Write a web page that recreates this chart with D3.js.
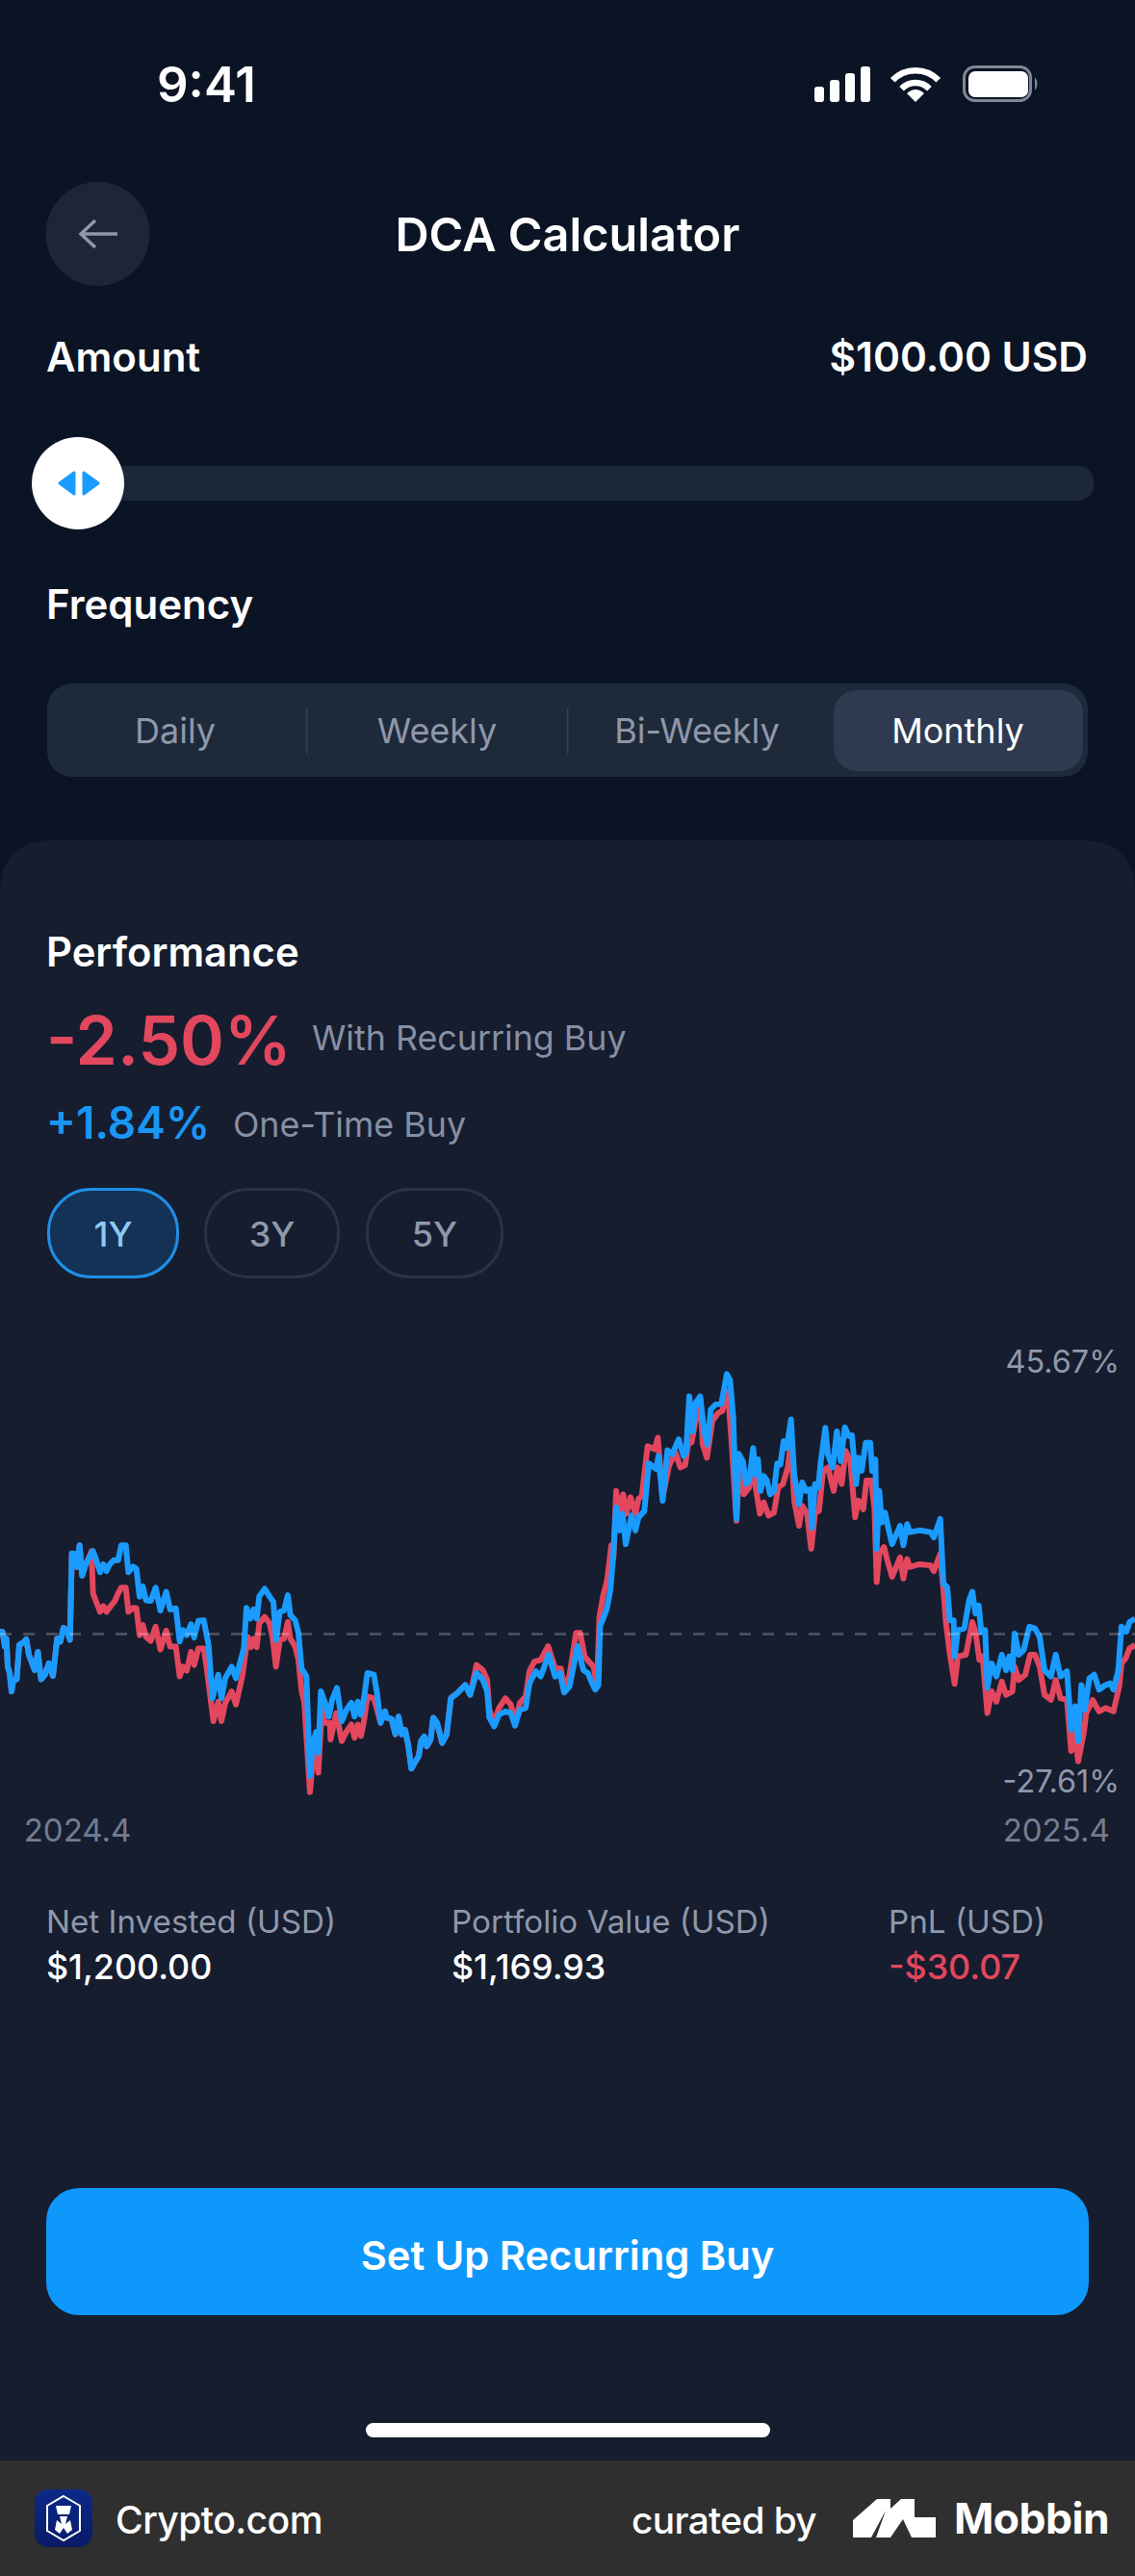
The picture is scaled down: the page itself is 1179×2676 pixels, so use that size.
<!DOCTYPE html>
<html>
<head>
<meta charset="utf-8">
<script src="https://cdn.jsdelivr.net/npm/d3@7"></script>
<style>
  html, body { margin: 0; padding: 0; background: #0b1424; }
  svg { display: block; }
  text { font-family: Inter, "Noto Sans", sans-serif; }
</style>
</head>
<body>
<svg id="page"></svg>
<script>
// [day, return %]
const recurringBuy = [
  [0,0.4],[0.8,0.4],[1.5,-2.2],[2,-0.8],[2.4,-5.7],[3,-6.8],[3.6,-10],[4.2,-8],[5.2,-7.9],[6,-1.9],[7.2,-1.5],[8.2,-0.9],
  [9,-3.6],[10,-5.1],[10.8,-6.3],[11.8,-3.1],[12.8,-7.9],[14,-7.1],[15.2,-5.1],[16.5,-7.3],[17.8,-0.8],[18.8,-1.3],[19.8,1.1],
  [20.8,0.7],[21.8,-1],[22.4,14.1],[23.5,14],[24,11.7],[24.8,15.5],[25.6,10.2],[26.6,12],[27.5,13.1],[28.5,14.5],[29,7.1],
  [30,5.6],[31.2,3.9],[32.2,4.9],[33.2,3.9],[34.5,4.9],[35.8,5.8],[36.8,7.1],[37.8,8.1],[39.2,8.1],[40,3.9],[41.5,4.6],[42.5,4.5],
  [43.5,-0.2],[44.5,1.6],[45.5,-0.5],[47,-1.2],[48.5,1.3],[50,-2.7],[51.8,0.6],[53,-2.2],[54.8,-2.2],[56,-7.4],[57,-5.7],[58.2,-6.4],
  [59.5,-3.1],[60.5,-5.4],[61.8,-2.5],[63.5,-2.5],[64.5,-6.3],[66.5,-15.2],[68,-11.8],[69,-15.2],[70.2,-12],[72.2,-10],[73.5,-12.3],
  [75.5,-7.4],[77.2,-0.5],[78.2,-2.3],[79,-0.8],[80,-2.3],[80.8,1.9],[82.5,3],[84,1.9],[85,-0.8],[86,-5.7],[87.2,-1],[88.5,-0.8],
  [89.7,2.1],[90.5,-0.8],[92,-2.2],[93,-4.5],[94,-10],[94.8,-11.8],[96.6,-27.6],[97.5,-21.9],[98.5,-21],[99.2,-24.2],[100.3,-13.2],
  [101.2,-15.5],[102.8,-15.5],[103,-18.4],[104.8,-13.8],[106.5,-18.7],[108,-17],[109.5,-15.8],[110.5,-18.1],[111.5,-15.8],[112.5,-17.8],
  [113.5,-14.9],[114.5,-10.9],[116.5,-11.2],[117.5,-13.2],[118.6,-15.5],[120,-13.5],[120.5,-14.6],[122,-14.8],[123.2,-17.5],[124.2,-14.4],
  [125.2,-17.5],[126.2,-16.7],[127.2,-19.3],[128.2,-23.5],[129.5,-22.2],[130.5,-21.3],[131.2,-18.7],[132.2,-17.9],[133,-19.6],[134.2,-18.4],
  [135,-14.6],[136.2,-15.5],[137.8,-19],[139.2,-17.5],[140.5,-11.2],[142.5,-10.3],[145,-8.9],[146.5,-10.6],[148.5,-5.4],[150.5,-6.3],
  [151.8,-8],[152.5,-13.2],[154,-15.5],[155.5,-12.9],[157.5,-11.2],[159.2,-12.3],[160.5,-15.5],[162,-12],[163.8,-10.9],[165,-6.5],
  [166.5,-4.8],[168.5,-4.5],[170.8,-2.1],[173,-6],[174.8,-6],[175.8,-9.7],[177.5,-7.1],[179.5,0.2],[180.8,0.2],[182.2,-3.9],[183.5,-4.8],
  [185,-5.7],[186,-9.1],[186.8,3],[188,6.8],[189.2,9.4],[190.5,15.5],[191.2,13.4],[192,25],[193,21],[194.2,24.4],[195.2,21],[196.5,23.9],
  [198,21],[199,23.6],[200,24.1],[201.8,32.8],[204,32.3],[205,34.3],[206.5,23.9],[208.5,29.4],[210.5,31.7],[212,29.1],[213.5,29.5],
  [214.5,33.4],[215.5,33.4],[217.2,38.6],[218.2,41.2],[219,33.1],[220.3,30.8],[222,37.2],[223.8,38.6],[225,38.9],[226.8,42.4],[228,33.4],
  [229.5,19.8],[230.5,30.2],[231.8,24.4],[233.5,25.6],[234.7,31.1],[235.5,25.6],[236.8,21],[238,23],[239.5,20.7],[241.2,21.2],[242.5,25.6],
  [244,26.2],[245.5,29.1],[246.5,33.7],[247.5,23.3],[249,18.9],[250,22.4],[251.5,21],[252.8,14.9],[254,21.2],[255.2,21.5],[256.5,28.5],
  [258,29.1],[259.8,25],[261,29.1],[262.3,26.2],[263.5,32],[265,30.2],[266.5,20.4],[267.5,23.3],[269,21.8],[270,26.8],[271.5,26.8],
  [272.5,22.1],[273.2,9.1],[274,14],[275.5,15.2],[276.5,12.9],[278,10],[280.5,13.4],[281.5,9.7],[282.7,13.1],[283.5,11.7],[286.5,12.2],
  [290,12],[291,11],[293,14],[294,7.6],[294.8,1.9],[296,-3.4],[297.5,-8.7],[298.5,-3.9],[301,-3.6],[303,2.1],[304,0.4],[305.2,-4.5],
  [306.2,-3.9],[307.7,-13.8],[309,-10],[310.5,-11.8],[312.2,-8.3],[313.5,-10.6],[315.5,-10],[316.2,-5.7],[317.5,-8],[319.5,-7.1],[321,-3.6],
  [322.5,-3.6],[324,-5.7],[325.5,-10.6],[327.5,-11.5],[329,-8],[330.5,-11.2],[332.5,-11.5],[333.8,-20.4],[335,-17.3],[336,-22.2],[337.8,-17],
  [338.5,-13.8],[340.5,-11.5],[342.5,-13.5],[344.5,-12.9],[347,-13.5],[348.8,-9.1],[349.5,-5.1],[350.8,-4.2],[352,-2.5],[353.7,-1.9]
];
const oneTimeBuy = [
  [0,0.4],[0.8,0.4],[1.5,-2.2],[2,-0.8],[2.4,-5.7],[3,-6.8],[3.6,-10],[4.2,-8],[5.2,-7.9],[6,-1.9],[7.2,-1.5],[8.2,-0.9],
  [9,-3.6],[10,-5.1],[10.8,-6.3],[11.8,-3.1],[12.8,-7.9],[14,-7.1],[15.2,-5.1],[16.5,-7.3],[17.8,-0.8],[18.8,-1.3],[19.8,1.1],
  [20.8,0.7],[21.8,-1],[22.4,14.1],[23.5,14],[24,11.7],[24.8,15.5],[25.6,10.2],[26.6,12],[27.5,13.1],[29,14.5],[30,12.9],
  [31.2,10.8],[32.2,12.2],[33.2,11],[34.2,12.2],[35.5,12.9],[36.8,12.9],[37.8,15.5],[39.2,15.5],[40,10.8],[41.5,11.8],[42.5,11.4],
  [43.5,6.5],[44.5,8.3],[45.5,5.9],[47,5.8],[48.5,8.1],[50,4.1],[51.8,7.4],[53,4.3],[54.8,4.5],[56,-1.3],[57,0.7],[58.2,-0.2],
  [59.5,1.7],[60.5,-0.6],[61.8,2.3],[63.5,2.4],[65,-1.9],[66.2,-11.2],[68,-7.1],[69,-11.2],[70.2,-7.7],[72.2,-5.7],[73.5,-7.7],
  [76,-2.5],[76.8,4.6],[78,2.7],[79,4.3],[80,2.7],[80.8,6.6],[82.5,7.9],[84,6.6],[85.2,5.6],[86,-1],[87.2,3.9],[88.5,4.1],
  [89.7,6.8],[90.5,3.3],[92,2.4],[93,0.2],[94,-6],[95.5,-7.4],[96.6,-24.8],[97.5,-19],[98.5,-17.1],[99.2,-20.7],[100,-10],
  [101.2,-11.8],[102.5,-14.4],[103.5,-11.5],[105,-9.4],[106.5,-15.2],[108,-13.2],[109.5,-12],[110.5,-14.4],[111.5,-11.8],[112.5,-14.1],
  [113.5,-10.9],[114.5,-6.8],[116.5,-7.1],[117.5,-10.3],[118.6,-15.5],[120,-13.5],[120.5,-14.6],[122,-14.8],[123.2,-17.5],[124.2,-14.4],
  [125.2,-17.5],[126.2,-16.7],[127.2,-19.3],[128.2,-23.5],[129.5,-22.2],[130.5,-21.3],[131.2,-18.7],[132.2,-17.9],[133,-19.6],[134.2,-18.4],
  [135,-14.6],[136.2,-15.5],[137.8,-19],[139.2,-17.5],[140.5,-11.2],[142.5,-10.3],[145,-8.9],[146.5,-10.6],[148.5,-6.8],[150.5,-8],
  [151.8,-10],[152.5,-14.6],[154,-16.1],[155.5,-14.1],[157.5,-13.5],[159.2,-13.8],[160.5,-16],[162,-13.2],[163.8,-12.9],[165,-8.6],
  [167,-6.5],[168.5,-7.4],[171,-3.6],[173,-7.4],[174.5,-6.8],[175.8,-10.2],[177.5,-9.1],[180,-2.1],[181.8,-6.3],[183.2,-6.8],[184.5,-8.6],
  [185.5,-9.7],[186.5,-8.9],[187,1.3],[189,4.2],[190.2,7.6],[191,12.9],[192,22.1],[193,18.1],[194,21],[195,15.7],[196.8,20.7],
  [198,18.1],[199,20.4],[200.8,21.5],[202.2,29.8],[204.5,28.8],[205.2,31.1],[206.5,23.3],[208,32.1],[209.5,31.4],[211.5,34],[213,31.1],
  [213.8,31.7],[214.8,41.5],[215.8,35.4],[216.8,40.4],[218.2,41.5],[219.5,35.1],[220.5,33.1],[221.5,39.2],[223,40.1],[224.8,40.2],[226.5,45.4],
  [227.5,44.4],[228.5,37.8],[229.5,20.1],[230.2,31.5],[231.5,30.2],[232.5,26.2],[233.5,26.8],[234.7,32.5],[235.5,27.9],[236.2,30.5],[237,25],
  [238,27.6],[239,26.8],[240,24.4],[241.2,25],[242.2,29.8],[243.2,29.6],[244.2,33.7],[245.2,32.5],[246.5,37.5],[247.5,27.9],[249,22.7],
  [250,26.5],[251.2,25],[252.5,25.3],[253,18.6],[254,26.2],[255,25.6],[255.8,30.2],[257.2,36],[258,31.4],[259.5,29.1],[260.8,35.4],[262,30.2],
  [263.3,36.1],[264.5,34.6],[265.5,34.7],[266.8,26.2],[267.5,30.8],[268.5,28.5],[269.8,33.4],[271.2,33.4],[271.8,28.5],[272.8,30.5],[273.2,14.9],
  [274,25],[274.8,19.5],[275.8,21.2],[276.8,18.6],[278,15.7],[280.5,18.9],[281.5,15.5],[282.7,19.2],[283.5,17.8],[286.5,18.1],[290,17.8],
  [291,16.9],[293,20.1],[294,8.8],[295.2,8.2],[296,2.4],[297.2,2.4],[297.5,-3.9],[298.5,0.7],[300.5,1],[302,5.9],[303,7.4],[304,3.6],[305,5],
  [305.8,0.4],[307,0.7],[307.7,-9.4],[309,-5.1],[310.5,-7.4],[312.2,-3.6],[313.5,-6.3],[314.5,-3.9],[315.5,-6.3],[316.2,0.1],[317.5,-3.6],
  [319,-2.8],[320.8,1.3],[322.5,1],[324,-0.5],[325.5,-6.3],[327.5,-7.4],[329,-3.6],[330.5,-7.4],[332.5,-6.5],[333.8,-16.7],[335,-12.6],
  [336,-18.7],[337,-8.9],[338,-13.2],[339.5,-7.7],[341,-7.1],[342.5,-9.7],[344.5,-8.9],[346,-8.6],[347,-9.7],[348.5,-6.3],[349.5,1.3],
  [351,0.4],[352,2.1],[353.7,2.7]
];
const rangeLabels = [45.67, -27.61];
const xTickDays = [24, 329];
const xTickLabels = ["2024.4", "2025.4"];
const frequencies = ["Daily", "Weekly", "Bi-Weekly", "Monthly"];
const frequencyX = [182, 454, 724, 995];
const periods = ["1Y", "3Y", "5Y"];
const stats = [
  { label: "Net Invested (USD)", value: "$1,200.00", x: 48, color: "#fff" },
  { label: "Portfolio Value (USD)", value: "$1,169.93", x: 469, color: "#fff" },
  { label: "PnL (USD)", value: "-$30.07", x: 923, color: "#e2475e" }
];

const W = 1179, H = 2676;
const blue = "#1a9bff", red = "#e2475e", grey = "#8f98ab";

const svg = d3.select("#page").attr("width", W).attr("height", H).attr("viewBox", `0 0 ${W} ${H}`);

function label(txt, x, y, size, color, weight = 400, anchor = "start", spacing = 0) {
  return svg.append("text").attr("x", x).attr("y", y).attr("font-size", size).attr("fill", color)
    .attr("font-weight", weight).attr("text-anchor", anchor).attr("letter-spacing", spacing).text(txt);
}
function box(x, y, w, h, r, fill) {
  return svg.append("rect").attr("x", x).attr("y", y).attr("width", w).attr("height", h)
    .attr("rx", r).attr("ry", r).attr("fill", fill);
}

box(0, 0, W, H, 0, "#0b1424");

// status bar
label("9:41", 163, 106, 51, "#fff", 600);
[[846, 90, 16], [862, 83, 23], [878, 76, 30], [894, 69, 37]].forEach(b => box(b[0], b[1], 10, b[2], 3, "#fff"));
svg.append("g").attr("transform", "translate(951,106)").attr("fill", "none").attr("stroke", "#fff").attr("stroke-width", 6.5)
  .selectAll("path").data([33, 20]).enter().append("path")
  .attr("d", r => `M${-r * 0.72},${-r * 0.69} A${r},${r} 0 0 1 ${r * 0.72},${-r * 0.69}`);
svg.append("path").attr("d", "M951,106 L942,97 Q951,89 960,97 Z").attr("fill", "#fff");
box(1001.5, 69.5, 69, 35, 11, "none").attr("stroke", "#7f8795").attr("stroke-width", 3);
box(1006, 74, 62, 27, 7, "#fff");
svg.append("path").attr("d", "M1075,80 Q1080,87 1075,94 Z").attr("fill", "#7f8795");

// header
svg.append("circle").attr("cx", 101.5).attr("cy", 243).attr("r", 54).attr("fill", "#1c2636");
svg.append("path").attr("d", "M122,243 H84 M99,229 L84,243 L99,257").attr("fill", "none")
  .attr("stroke", "#8f98ab").attr("stroke-width", 3.5);
label("DCA Calculator", 589.5, 261, 48.6, "#fff", 600, "middle");
label("Amount", 48, 386, 42, "#fff", 600);
label("$100.00 USD", 1130, 386, 42.4, "#fff", 600, "end");

// slider
box(100, 484, 1036, 36, 16, "#1c2838");
svg.append("circle").attr("cx", 81).attr("cy", 502).attr("r", 48).attr("fill", "#fff");
svg.append("path").attr("d", "M62,502 L77,491 V513 Z M102,502 L87,491 V513 Z")
  .attr("fill", blue).attr("stroke", blue).attr("stroke-width", 3).attr("stroke-linejoin", "round");

// frequency selector
label("Frequency", 48, 643, 42, "#fff", 600);
box(49, 710, 1081, 97, 26, "#1e2a3a");
box(866, 717, 259, 84, 24, "#2f3a50");
[318, 589].forEach(x => box(x, 735, 1.5, 48, 0, "#37414f"));
frequencies.forEach((f, i) => label(f, frequencyX[i], 772, 36, i === 3 ? "#fff" : grey, 400, "middle"));

// performance panel
svg.append("path").attr("d", `M0,2560 V928 Q0,873 55,873 H${W - 55} Q${W},873 ${W},928 V2560 Z`).attr("fill", "#151d2f");
label("Performance", 48, 1004, 41.8, "#fff", 600);
label("-2.50%", 48, 1106, 69.5, red, 600);
label("With Recurring Buy", 324, 1091, 35.8, "#868fa3");
label("+1.84%", 48, 1183, 46, "#1a96f5", 600);
label("One-Time Buy", 242, 1181, 35.8, "#868fa3");

// period pills
[[49, 137], [212, 141], [380, 143]].forEach((p, i) => {
  box(p[0] + 1.5, 1235.5, p[1] - 3, 91, 44, i === 0 ? "#133255" : "none")
    .attr("stroke", i === 0 ? "#1f8fe6" : "#2a3345").attr("stroke-width", 3);
  label(periods[i], p[0] + p[1] / 2, 1295, 36, i === 0 ? "#8fc8f5" : grey, 500, "middle");
});

// chart
const x = d3.scaleLinear().domain([0, 353.7]).range([0, W]);
const y = d3.scaleLinear().domain([-27.61, 45.67]).range([1861.8, 1425.8]);
const line = d3.line().x(d => x(d[0])).y(d => y(d[1])).curve(d3.curveLinear);

const chart = svg.append("g");
[[recurringBuy, red], [oneTimeBuy, blue]].forEach(s => {
  chart.append("path").datum(s[0]).attr("d", line).attr("fill", "none").attr("stroke", s[1])
    .attr("stroke-width", 6).attr("stroke-linejoin", "round").attr("stroke-linecap", "butt");
});
chart.append("line").attr("x1", 0).attr("x2", W).attr("y1", y(0)).attr("y2", y(0))
  .attr("stroke", "#fff").attr("stroke-opacity", 0.25).attr("stroke-width", 2.5).attr("stroke-dasharray", "12 12");

rangeLabels.forEach(v => label(`${v.toFixed(2)}%`, 1163, y(v), 32.4, grey, 400, "end"));

const xAxis = d3.axisBottom(x).tickValues(xTickDays).tickSize(0).tickPadding(0)
  .tickFormat((d, i) => xTickLabels[i]);
const xAxisG = chart.append("g").attr("transform", "translate(0,1890)").call(xAxis);
xAxisG.select(".domain").remove();
xAxisG.selectAll("text").attr("font-size", 33).attr("fill", "#737c90").attr("font-family", "Inter");

// summary numbers
stats.forEach(s => {
  label(s.label, s.x, 2008, 33.2, grey);
  label(s.value, s.x, 2056, 35.8, s.color, 500);
});

// call to action
box(48, 2273, 1083, 132, 34, "#0f98fb");
label("Set Up Recurring Buy", 589.5, 2358, 41.7, "#fff", 600, "middle");
box(380, 2517, 420, 15, 7.5, "#fff");

// footer
box(0, 2556, W, 120, 0, "#2f2f2f");
const grad = svg.append("defs").append("linearGradient").attr("id", "logo").attr("x1", 0).attr("x2", 0).attr("y1", 0).attr("y2", 1);
grad.append("stop").attr("offset", 0).attr("stop-color", "#0b2a8a");
grad.append("stop").attr("offset", 1).attr("stop-color", "#0a1a66");
box(36, 2586, 60, 60, 14, "url(#logo)");
svg.append("path").attr("d", "M66,2593 L83,2603 V2629 L66,2639 L49,2629 V2603 Z").attr("fill", "none").attr("stroke", "#fff").attr("stroke-width", 2);
svg.append("path").attr("d", "M58,2603 H74 L72,2612 H60 Z M62,2614 H70 L68,2622 L73,2618 L75,2628 L70,2632 L66,2626 L62,2632 L57,2628 L59,2618 L64,2622 Z").attr("fill", "#fff");
label("Crypto.com", 120, 2632, 39.2, "#fff", 500, "start", -0.6);
label("curated by", 848, 2632, 38.8, "#fff", 500, "end", -0.6);
svg.append("path").attr("d", "M886,2636 V2618 L911,2596 H925 V2606 L936,2596 H950 V2615 H972 V2636 H947 L938,2617 L925,2636 H910 L920,2608 L905,2636 Z").attr("fill", "#fff");
label("Mobbin", 991, 2632, 44.4, "#fff", 700, "start", -0.5);
</script>
</body>
</html>
